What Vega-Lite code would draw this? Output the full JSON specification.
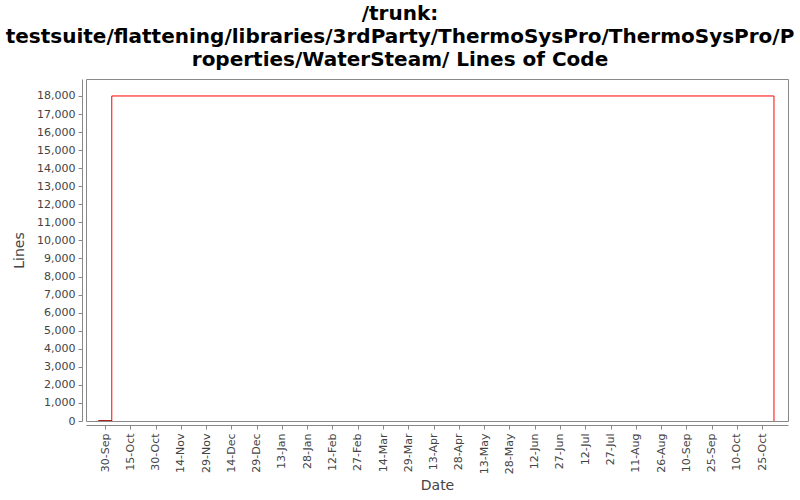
{
  "$schema": "https://vega.github.io/schema/vega-lite/v6.json",
  "width": 702,
  "height": 342,
  "autosize": {"type": "none"},
  "padding": {"left": 86, "top": 79, "right": 12, "bottom": 79},
  "background": "white",
  "config": {
    "font": "DejaVu Sans",
    "view": {"stroke": "#888888", "strokeWidth": 1},
    "axis": {
      "labelFont": "DejaVu Sans",
      "labelFontSize": 11,
      "labelColor": "#444444",
      "titleFont": "DejaVu Sans",
      "titleFontSize": 14,
      "titleFontWeight": "normal",
      "titleColor": "#444444",
      "domainColor": "#888888",
      "tickColor": "#888888",
      "grid": false
    }
  },
  "title": {
    "text": ["/trunk:", "testsuite/flattening/libraries/3rdParty/ThermoSysPro/ThermoSysPro/P", "roperties/WaterSteam/ Lines of Code"],
    "font": "DejaVu Sans",
    "fontSize": 20,
    "fontWeight": "bold",
    "color": "#000000",
    "anchor": "middle",
    "dx": -37,
    "lineHeight": 23,
    "offset": 9
  },
  "datasets": {
    "main": [
      {"date": "2012-09-26", "lines": 0},
      {"date": "2012-10-04", "lines": 18000},
      {"date": "2013-11-01", "lines": 0}
    ],
    "start": [
      {"date": "2012-09-26", "lines": 0},
      {"date": "2012-10-04", "lines": 0}
    ]
  },
  "encoding": {
    "x": {
      "field": "date",
      "type": "temporal",
      "title": "Date",
      "scale": {
        "type": "utc",
        "domain": [
          {"year": 2012, "month": 9, "date": 18, "hours": 17, "utc": true},
          {"year": 2013, "month": 11, "date": 9, "hours": 8, "utc": true}
        ]
      },
      "axis": {
        "format": "%d-%b",
        "labelAngle": 270,
        "labelAlign": "right",
        "labelBaseline": "middle",
        "offset": 4,
        "tickSize": 4,
        "labelPadding": 4,
        "titlePadding": 5,
        "labelOverlap": false,
        "values": [
          {"year": 2012, "month": 9, "date": 30, "utc": true},
          {"year": 2012, "month": 10, "date": 15, "utc": true},
          {"year": 2012, "month": 10, "date": 30, "utc": true},
          {"year": 2012, "month": 11, "date": 14, "utc": true},
          {"year": 2012, "month": 11, "date": 29, "utc": true},
          {"year": 2012, "month": 12, "date": 14, "utc": true},
          {"year": 2012, "month": 12, "date": 29, "utc": true},
          {"year": 2013, "month": 1, "date": 13, "utc": true},
          {"year": 2013, "month": 1, "date": 28, "utc": true},
          {"year": 2013, "month": 2, "date": 12, "utc": true},
          {"year": 2013, "month": 2, "date": 27, "utc": true},
          {"year": 2013, "month": 3, "date": 14, "utc": true},
          {"year": 2013, "month": 3, "date": 29, "utc": true},
          {"year": 2013, "month": 4, "date": 13, "utc": true},
          {"year": 2013, "month": 4, "date": 28, "utc": true},
          {"year": 2013, "month": 5, "date": 13, "utc": true},
          {"year": 2013, "month": 5, "date": 28, "utc": true},
          {"year": 2013, "month": 6, "date": 12, "utc": true},
          {"year": 2013, "month": 6, "date": 27, "utc": true},
          {"year": 2013, "month": 7, "date": 12, "utc": true},
          {"year": 2013, "month": 7, "date": 27, "utc": true},
          {"year": 2013, "month": 8, "date": 11, "utc": true},
          {"year": 2013, "month": 8, "date": 26, "utc": true},
          {"year": 2013, "month": 9, "date": 10, "utc": true},
          {"year": 2013, "month": 9, "date": 25, "utc": true},
          {"year": 2013, "month": 10, "date": 10, "utc": true},
          {"year": 2013, "month": 10, "date": 25, "utc": true}
        ]
      }
    },
    "y": {
      "field": "lines",
      "type": "quantitative",
      "title": "Lines",
      "scale": {"domain": [0, 18940], "nice": false, "zero": false},
      "axis": {
        "values": [0, 1000, 2000, 3000, 4000, 5000, 6000, 7000, 8000, 9000, 10000, 11000, 12000, 13000, 14000, 15000, 16000, 17000, 18000],
        "format": ",d",
        "offset": 4,
        "tickSize": 4,
        "labelPadding": 3,
        "titlePadding": 10
      }
    }
  },
  "layer": [
    {
      "data": {"name": "main"},
      "mark": {"type": "line", "interpolate": "step-after", "color": "#ff0000", "strokeWidth": 1, "clip": true}
    },
    {
      "data": {"name": "start"},
      "mark": {"type": "line", "color": "#990000", "strokeWidth": 1.5, "clip": true}
    }
  ]
}
